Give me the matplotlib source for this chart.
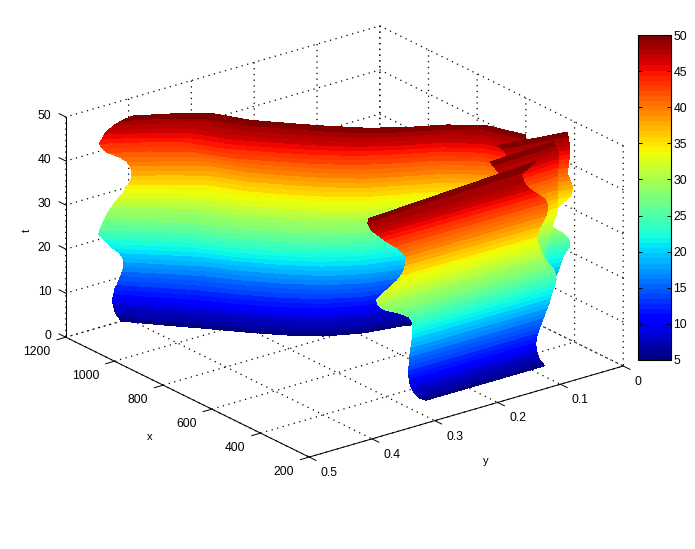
import numpy as np
import matplotlib
matplotlib.use("Agg")
import matplotlib.pyplot as plt
from matplotlib.cm import ScalarMappable
from matplotlib.colors import Normalize

plt.rcParams["font.family"] = ["Liberation Sans", "DejaVu Sans"]
plt.rcParams["font.size"] = 8.8
plt.rcParams["grid.color"] = "k"
plt.rcParams["grid.linewidth"] = 0.9
plt.rcParams["grid.linestyle"] = (0, (1, 3.6))

# rows of the surface, one per t value
t_rows = np.arange(5, 51)

x_ticks = [200, 400, 600, 800, 1000, 1200]
x_labels = ["200", "400", "600", "800", "1000", "1200"]
y_ticks = [0, 0.1, 0.2, 0.3, 0.4, 0.5]
y_labels = ["0", "0.1", "0.2", "0.3", "0.4", "0.5"]
t_ticks = [0, 10, 20, 30, 40, 50]
t_labels = ["0", "10", "20", "30", "40", "50"]
cbar_ticks = [5, 10, 15, 20, 25, 30, 35, 40, 45, 50]

# main sheet: left end per t, fixed right end, bow along the sheet
main_x_left = [1083, 1090, 1095, 1098, 1100, 1101, 1100, 1100, 1097, 1095, 1093, 1091, 1090, 1091, 1093, 1100,
               1110, 1118, 1127, 1134, 1133, 1131, 1129, 1126, 1123, 1119, 1115, 1110, 1105, 1101, 1097, 1095,
               1094, 1095, 1099, 1104, 1116, 1136, 1145, 1149, 1146, 1143, 1137, 1129, 1119, 1103]
main_y_left = [.456, .460, .462, .463, .464, .464, .462, .461, .458, .456, .454, .452, .450, .450, .451, .454,
               .460, .465, .469, .473, .472, .469, .467, .465, .462, .458, .455, .451, .446, .443, .440, .437,
               .436, .436, .437, .440, .447, .459, .464, .466, .463, .460, .456, .450, .442, .431]
main_x_right = 407
main_y_right = 0.076
main_frac = [0, .1, .2, .3, .4, .5, .6, .7, .8, .9, 1]
main_dx_low = [0, -13, -24, -37, -47, -47, -24, 21, 42, 32, 0]
main_dx_high = [0, 21, 34, 7, 0, -5, -5, 9, 32, 39, 0]

# second sheet from the back, right hand side
back_x_left = 392
back_x_right = 357
back_y_left = [.110] * 42 + [.111, .113, .119, .126]
back_y_right = [.090, .090, .090, .090, .090, .090, .090, .090, .070, .070, .070, .060, .052, .047, .0425, .040,
                .0375, .035, .030, .024, .024, .028, .033, .041, .049, .054, .053, .052, .049, .038, .025, .021,
                .020, .021, .024, .027, .028, .027, .026, .025, .025, .025, .025, .026, .027, .028]

# third sheet
mid_x_left = 318
mid_x_right = 327
mid_y_left = [.150] * 42 + [.153, .157, .162, .166]
mid_y_right = [.095, .095, .095, .094, .092, .088, .086, .084, .082, .080, .078, .076, .074, .072, .070, .068,
               .068, .068, .070, .072, .074, .074, .072, .070, .067, .0635, .0635, .061, .058, .056, .0555, .0555,
               .0555, .0555, .0555, .0555, .0555, .0555, .055, .0545, .054, .054, .054, .056, .059, .062]

# front sheet, close to x = 200
front_x_left = 205
front_x_right = [205] * 44 + [230, 250]
front_y_left = [.312, .323, .329, .333, .336, .338, .339, .340, .340, .339, .339, .338, .337, .336, .335, .334,
                .333, .333, .333, .335, .339, .349, .361, .375, .384, .389, .391, .382, .369, .358, .351, .347,
                .345, .344, .345, .349, .355, .362, .370, .378, .384, .391, .398, .402, .405, .403]
front_y_right = [.123, .128, .132, .134, .136, .137, .137, .136, .134, .131, .128, .125, .122, .119, .116, .114,
                 .112, .109, .106, .105, .106, .108, .112, .118, .122, .125, .128, .131, .134, .136, .135, .133,
                 .129, .125, .121, .119, .118, .120, .124, .131, .139, .146, .152, .156, .150, .120]

cmap = plt.get_cmap("jet", 64)
norm = Normalize(5, 50)


def band_sheet(ax, xl, yl, xr, yr, order):
    """Sheet of two columns between a left and a right edge, coloured by t."""
    T = np.column_stack([t_rows, t_rows])
    X = np.column_stack([np.full(46, xl) if np.isscalar(xl) else xl, np.full(46, xr) if np.isscalar(xr) else xr])
    Y = np.column_stack([yl, yr])
    ax.plot_surface(X, Y, T, facecolors=cmap(norm(T + 0.5)), shade=False, rstride=1, cstride=1,
                    linewidth=0, antialiased=False, zorder=order)


fig = plt.figure(figsize=(6.95, 5.49), dpi=100)
ax = fig.add_axes([40 / 695, 3 / 549, 593 / 695, 593 / 549], projection="3d", computed_zorder=False)
ax.patch.set_alpha(0)
ax.set_proj_type("ortho")
ax.set_box_aspect((400, 396, 238))
ax.view_init(elev=22.2, azim=142.5)

f = np.array(main_frac)
w = ((t_rows - 5) / 45)[:, None]
xl = np.array(main_x_left)[:, None]
yl = np.array(main_y_left)[:, None]
dx = (1 - w) * np.array(main_dx_low) + w * np.array(main_dx_high)
X = xl + (main_x_right - xl) * f + dx
Y = yl + (main_y_right - yl) * f - 0.000387 * dx
T = np.repeat(t_rows[:, None], len(f), axis=1)
ax.plot_surface(X, Y, T, facecolors=cmap(norm(T + 0.5)), shade=False, rstride=1, cstride=1,
                linewidth=0, antialiased=False, zorder=1)

band_sheet(ax, back_x_left, back_y_left, back_x_right, back_y_right, 2)
band_sheet(ax, mid_x_left, mid_y_left, mid_x_right, mid_y_right, 3)
band_sheet(ax, front_x_left, front_y_left, np.array(front_x_right), front_y_right, 4)

ax.set_xlim(200, 1200)
ax.set_ylim(0, 0.5)
ax.set_zlim(0, 50)
ax.set_xticks(x_ticks)
ax.set_xticklabels(x_labels, ha="right", va="center")
ax.set_yticks(y_ticks)
ax.set_yticklabels(y_labels, ha="left", va="center")
ax.set_zticks(t_ticks)
ax.set_zticklabels(t_labels, ha="right", va="center")
ax.tick_params(axis="x", pad=2.8)
ax.tick_params(axis="y", pad=2.5)
ax.tick_params(axis="z", pad=-2.3)
ax.zaxis._axinfo["juggled"] = (1, 2, 0)
for axis in (ax.xaxis, ax.yaxis, ax.zaxis):
    axis.set_pane_color((1, 1, 1, 0))
    axis.pane.set_edgecolor((1, 1, 1, 0))
    axis.line.set_linewidth(0.72)
    axis._axinfo["tick"].update(inward_factor=0.35, outward_factor=0, linewidth={True: 0.7, False: 0.5})
ax.zaxis._axinfo["tick"].update(inward_factor=0, outward_factor=0.35)

fig.text(150 / 695, 1 - 437 / 549, "x", fontsize=8, ha="center", va="center")
fig.text(486 / 695, 1 - 461 / 549, "y", fontsize=8, ha="center", va="center")
fig.text(27 / 695, 1 - 230 / 549, "t", fontsize=8, ha="center", va="center", rotation=90)

cax = fig.add_axes([637.5 / 695, (549 - 360) / 549, 33 / 695, 325 / 549])
cb = fig.colorbar(ScalarMappable(norm=norm, cmap=cmap), cax=cax, ticks=cbar_ticks)
cb.outline.set_linewidth(0.8)
cax.tick_params(direction="in", left=True, right=True, length=3, width=0.7, pad=2)

fig.savefig("out.png", dpi=100)
